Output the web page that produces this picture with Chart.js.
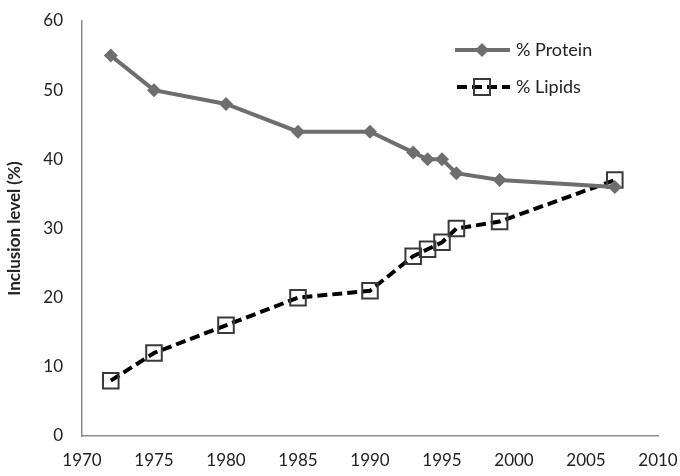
<!DOCTYPE html>
<html lang="en">
<head>
<meta charset="UTF-8">
<title>Inclusion level</title>
<script src="https://cdn.jsdelivr.net/npm/chart.js"></script>
<style>
    html, body { margin: 0; padding: 0; background: #fff; }
</style>
</head>
<body>
<canvas id="line_chart" width="680" height="476"></canvas>
<script>
    const years = [1972, 1975, 1980, 1985, 1990, 1993, 1994, 1995, 1996, 1999, 2007];
    const protein = [55, 50, 48, 44, 44, 41, 40, 40, 38, 37, 36];
    const lipids = [8, 12, 16, 20, 21, 26, 27, 28, 30, 31, 37];
    const seriesNames = ["% Protein", "% Lipids"];

    const proteinColor = "#6e6e6e";
    const toPoints = (vals) => years.map((y, i) => ({ x: y, y: vals[i] }));

    // legend drawn inside plot area, line + marker like the original
    const insideLegend = {
        id: "insideLegend",
        afterDraw(chart) {
            const ctx = chart.ctx;
            const x0 = 455, x1 = 510, mx = 482;
            const y1 = 50, y2 = 87;
            ctx.save();
            // protein
            ctx.strokeStyle = proteinColor;
            ctx.lineWidth = 4;
            ctx.beginPath(); ctx.moveTo(x0, y1); ctx.lineTo(x1, y1); ctx.stroke();
            ctx.fillStyle = proteinColor;
            ctx.beginPath();
            ctx.moveTo(mx, y1 - 7); ctx.lineTo(mx + 7, y1); ctx.lineTo(mx, y1 + 7); ctx.lineTo(mx - 7, y1);
            ctx.closePath(); ctx.fill();
            // lipids
            ctx.strokeStyle = "#000";
            ctx.lineWidth = 4;
            ctx.setLineDash([10, 5]);
            ctx.lineDashOffset = -2;
            ctx.beginPath(); ctx.moveTo(x0, y2); ctx.lineTo(x1, y2); ctx.stroke();
            ctx.setLineDash([]);
            ctx.strokeStyle = "#3a3a3a";
            ctx.lineWidth = 2;
            ctx.strokeRect(mx - 8, y2 - 8, 16, 16);
            // text
            ctx.fillStyle = "#222";
            ctx.font = "18px Lato";
            ctx.textBaseline = "middle";
            ctx.fillText(seriesNames[0], 516, y1);
            ctx.fillText(seriesNames[1], 516, y2);
            ctx.restore();
        }
    };

    new Chart("line_chart", {
        type: "line",
        data: {
            datasets: [{
                label: seriesNames[0],
                data: toPoints(protein),
                borderColor: proteinColor,
                backgroundColor: proteinColor,
                borderWidth: 4,
                pointStyle: "rectRot",
                pointRadius: 7,
                pointBorderWidth: 0,
                tension: 0
            }, {
                label: seriesNames[1],
                data: toPoints(lipids),
                borderColor: "#000",
                borderWidth: 4,
                borderDash: [10, 5],
                pointStyle: "rect",
                pointRadius: 11,
                pointBackgroundColor: "rgba(0,0,0,0)",
                pointBorderColor: "#3a3a3a",
                pointBorderWidth: 2,
                tension: 0
            }]
        },
        options: {
            responsive: false,
            animation: false,
            layout: { padding: { top: 21, right: 22, left: 0, bottom: 0 } },
            plugins: {
                legend: { display: false },
                tooltip: { enabled: false }
            },
            scales: {
                x: {
                    type: "linear",
                    min: 1970,
                    max: 2010,
                    afterFit: (s) => { s.height = 40; s.paddingLeft = 0; s.paddingRight = 0; },
                    ticks: {
                        stepSize: 5, maxRotation: 0, color: "#222", padding: 14,
                        font: { family: "Lato", size: 17 },
                        callback: (v) => String(v)
                    },
                    grid: { display: false, drawTicks: false },
                    border: { color: "#8c8c8c", width: 1.5 }
                },
                y: {
                    min: 0,
                    max: 60,
                    afterFit: (s) => { s.width = 82; s.paddingTop = 0; s.paddingBottom = 0; },
                    ticks: { stepSize: 10, color: "#222", font: { family: "Lato", size: 17 }, padding: 19 },
                    grid: { display: false, drawTicks: false },
                    border: { color: "#8c8c8c", width: 1.5 },
                    title: {
                        display: true,
                        text: "Inclusion level (%)",
                        color: "#222",
                        padding: { top: 4, bottom: 17 },
                        font: { family: "Lato", size: 17, weight: "bold" }
                    }
                }
            }
        },
        plugins: [insideLegend]
    });
</script>
</body>
</html>
